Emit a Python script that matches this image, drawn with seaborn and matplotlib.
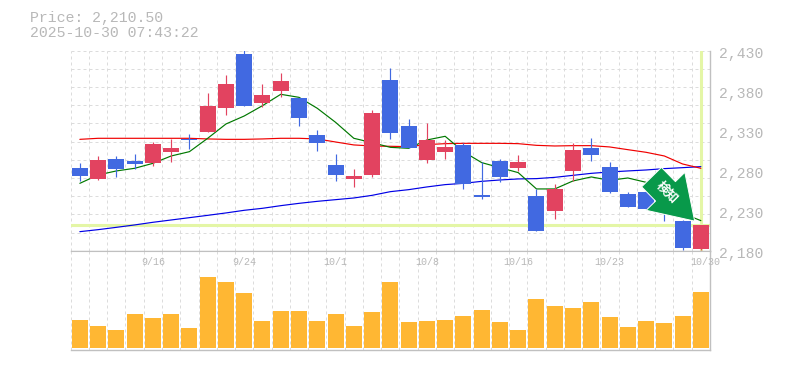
import matplotlib
matplotlib.use("Agg")
import matplotlib.pyplot as plt
import numpy as np
import pandas as pd
import seaborn as sns

W, H = 785, 370
tick_pos = [4, 9, 14, 19, 24, 29, 34.22]
tick_txt = ["9/16", "9/24", "10/1", "10/8", "10/16", "10/23", "10/30"]
price_ticks = [2180, 2230, 2280, 2330, 2380, 2430]

def p(z):
    return [round(2443.4 - v / 2.4, 1) for v in z]

body_top = p([384,360,357,363,312,324,296,198,132,42,165,123,174,285,375,407,219,120,258,300,321,315,465,363,366,468,447,330,324,381,462,456,445,543,555])
body_bot = p([408,417,387,372,369,336,300,276,204,198,189,153,234,309,405,417,405,279,324,360,336,432,471,411,384,573,513,393,345,456,501,507,500,624,627])
wick_top = p([369,348,348,342,306,296,282,159,105,30,132,99,174,270,342,387,210,84,237,249,300,309,366,357,345,447,432,309,294,366,456,453,430,540,555])
wick_bot = p([423,420,411,387,378,366,327,276,225,198,201,171,258,333,423,441,411,297,324,369,357,447,477,426,393,573,537,423,363,459,501,507,542,630,630])
is_red = [0,1,0,0,1,1,0,1,1,0,1,1,0,0,0,1,1,0,0,1,1,0,0,0,1,0,1,1,0,0,0,0,0,0,1]
ma_green = p([430,405,393,385,370,348,335,295,252,228,197,163,172,205,247,295,308,322,325,300,289,335,368,383,398,447,447,423,411,421,414,427,470,520,542])
ma_red = p([298,295,295,295,295,295,295,297,298,298,297,295,295,297,306,315,318,319,320,314,311,310,310,310,311,316,318,317,317,321,329,337,348,372,385])
ma_blue = p([575,569,562,555,547,540,533,526,519,511,505,497,490,484,479,474,466,455,449,441,434,430,424,420,417,416,412,406,400,396,393,390,386,383,380])
volume = [28,22,18,34,30,34,20,71,66,55,27,37,37,27,34,22,36,66,26,27,28,32,38,26,18,49,42,40,46,31,21,27,25,32,56]
price_now = 2212
last_idx = 34

RED, BLUE, ORANGE, LINE, GRID, TXT, HL, ARROW = "#e24360", "#4169e1", "#ffb733", "#c0c0c0", "#dcdcdc", "#b8b8b8", "#e4f6a6", "#08994a"
MONO = "Liberation Mono"
PX = 0.72

sns.set_style("white")
plt.rcParams["font.family"] = [MONO, "Noto Sans CJK JP", "DejaVu Sans"]

fig = plt.figure(figsize=(W / 100, H / 100), dpi=100, facecolor="white")
L, R = 70.7, 710
def rect(top, bot):
    return [L / W, 1 - bot / H, (R - L) / W, (bot - top) / H]
ax = fig.add_axes(rect(50.7, 250.7))
axv = fig.add_axes(rect(250.7, 350))

idx = np.arange(len(volume))
for a in (ax, axv):
    a.set_facecolor("white")
    for s in a.spines.values():
        s.set_visible(False)
    for side in ("bottom", "right"):
        a.spines[side].set_visible(True)
        a.spines[side].set_color(LINE)
        a.spines[side].set_linewidth(1.0)
    a.set_axisbelow(True)
    a.vlines(idx - 0.5, 0, 1, transform=a.get_xaxis_transform(), colors=GRID,
             linewidth=PX, linestyles=(0, (3, 3)), zorder=0)
axv.spines["top"].set_visible(True)
axv.spines["top"].set_color(LINE)

# price panel
ax.hlines(np.arange(0, 12) * 18.18 / 0.8 + 2180, -0.5, 34.5, colors=GRID, linewidth=PX,
          linestyles=(0, (3, 3)), zorder=0)
ax.axhline(price_now, color=HL, lw=2.2, zorder=1)
ax.axvline(last_idx, color=HL, lw=2.2, zorder=1)
df = pd.DataFrame({"i": idx, "green": ma_green, "red": ma_red, "blue": ma_blue})
for col, c in (("blue", "#0000e6"), ("red", "#f00000"), ("green", "#007800")):
    sns.lineplot(data=df, x="i", y=col, color=c, lw=0.85, ax=ax, zorder=2, errorbar=None)
cols = [RED if r else BLUE for r in is_red]
ax.vlines(idx, wick_bot, wick_top, colors=cols, linewidth=0.85, zorder=3)
ax.bar(idx, np.array(body_top) - np.array(body_bot), bottom=body_bot, width=0.875,
       color=cols, linewidth=0, zorder=4)
ax.set_xlim(-0.5, 34.5)
ax.set_ylim(2180, 2430)
ax.set_xticks([])
ax.set_yticks(price_ticks)
ax.set_yticklabels([f"{v:,}" for v in price_ticks])
ax.set_xlabel("")
ax.set_ylabel("")
ax.yaxis.tick_right()
ax.tick_params(axis="y", length=0, pad=6.5, labelsize=10.6, labelcolor=TXT)
for lab in ax.get_yticklabels():
    lab.set_verticalalignment("center")
    lab.set_transform(lab.get_transform() + matplotlib.transforms.ScaledTranslation(0, -2.5 / 72, fig.dpi_scale_trans))

# signal arrow
ax.annotate("", xy=(33.66, 2217), xytext=(31.3, 2272),
            arrowprops=dict(arrowstyle="simple,head_length=3.0,head_width=3.9,tail_width=2.0",
                            mutation_scale=10, shrinkA=0, shrinkB=0, color=ARROW, lw=0.7, ec="white"),
            zorder=6)
ax.text(32.13, 2252.7, "検知", color="white", fontsize=9, fontweight="bold", rotation=-45,
        ha="center", va="center", zorder=7, family=["Noto Sans CJK JP"], rotation_mode="anchor")

# volume panel
sns.barplot(x=idx, y=volume, color=ORANGE, saturation=1, width=0.875, ax=axv, zorder=3, linewidth=0, native_scale=True)
axv.set_xlim(-0.5, 34.5)
axv.set_ylim(-2, 97.3)
axv.set_yticks([])
axv.set_ylabel("")
axv.set_xticks([])
for pos, t in zip(tick_pos, tick_txt):
    axv.text(pos, 86, t, ha="center", va="center", fontsize=7.2, color=TXT, zorder=5, clip_on=False)

fig.text(30 / W, 1 - 18 / H, "Price: 2,210.50", color=TXT, fontsize=10.7, va="center", ha="left")
fig.text(30 / W, 1 - 33 / H, "2025-10-30 07:43:22", color=TXT, fontsize=10.7, va="center", ha="left")

fig.savefig("out.png", dpi=100, facecolor="white")
